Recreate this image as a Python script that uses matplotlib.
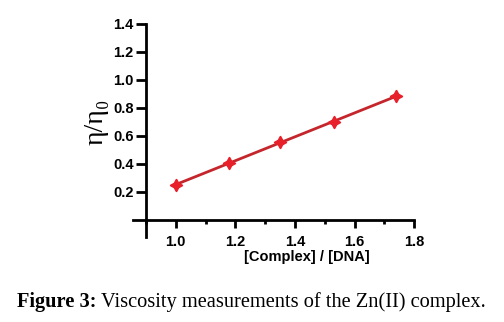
import numpy as np
import matplotlib
matplotlib.use('Agg')
import matplotlib.pyplot as plt
from matplotlib.ticker import MultipleLocator

## DATA ##########################
ratio = [1.00, 1.18, 1.35, 1.53, 1.74]      # [Complex]/[DNA]
visc = [0.25, 0.41, 0.555, 0.70, 0.885]     # eta/eta0
x_major = [1.0, 1.2, 1.4, 1.6, 1.8]
y_major = [0.2, 0.4, 0.6, 0.8, 1.0, 1.2, 1.4]
##################################

plt.rcParams['font.family'] = ['Liberation Sans', 'DejaVu Sans']

fig = plt.figure(figsize=(5.04, 3.22), dpi=100)
ax = fig.add_axes([0.2897, 0.3168, 0.532, 0.6087])

# linear fit through the points
p = np.polyfit(ratio, visc, 1)
xf = np.array([ratio[0], ratio[-1]])
ax.plot(xf, np.polyval(p, xf), color='#c4262c', lw=2.0, zorder=2)
ax.plot(ratio, visc, ls='none', marker=(4, 1, 0), ms=9, color='#e8202a',
        mec='#e8202a', zorder=3)

ax.set_xlim(0.9, 1.8)
ax.set_ylim(0, 1.4)
ax.set_xticks(x_major)
ax.set_xticklabels(['{:.1f}'.format(v) for v in x_major], fontweight='bold', fontsize=10.5)
ax.xaxis.set_minor_locator(MultipleLocator(0.1))
ax.set_yticks(y_major)
ax.set_yticklabels(['{:.1f}'.format(v) for v in y_major], fontweight='bold', fontsize=10.5)

for s in ['top', 'right']:
    ax.spines[s].set_visible(False)
for s in ['left', 'bottom']:
    ax.spines[s].set_linewidth(2.0)
ax.spines['left'].set_bounds(-0.12, 1.4)
ax.spines['bottom'].set_bounds(0.856, 1.8)

ax.tick_params(axis='y', which='major', direction='out', length=7, width=2.0, pad=2)
ax.tick_params(axis='x', which='major', direction='out', length=6, width=2.0, pad=5)
ax.tick_params(axis='x', which='minor', direction='out', length=3, width=2.0)

ax.set_xlabel('[Complex] / [DNA]', fontweight='bold', fontsize=10.5)
ax.xaxis.set_label_coords(0.60, -0.155)
ax.set_ylabel('η/η₀', family=['Liberation Serif', 'DejaVu Serif'], fontsize=20, labelpad=3)

# caption: bold "Figure 3:" followed by regular text
cap = fig.text(0.034, 0.047, 'Figure 3:', fontweight='bold', fontsize=14.7,
               family=['Liberation Serif'], ha='left', va='baseline')
fig.canvas.draw()
bb = cap.get_window_extent()
fig.text(bb.x1 / fig.bbox.width + 0.009, 0.047, 'Viscosity measurements of the Zn(II) complex.',
         fontsize=14.7, family=['Liberation Serif'], ha='left', va='baseline')

fig.savefig('out.png', dpi=100)
